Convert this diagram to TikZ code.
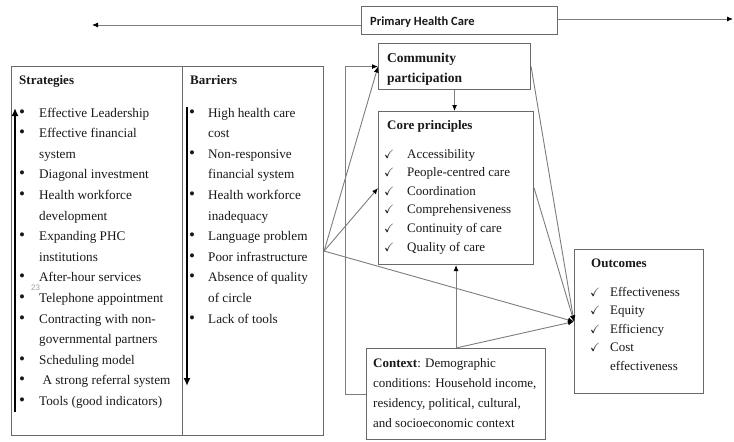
\documentclass[tikz,border=0pt]{standalone}
\usepackage{fontspec}
\setmainfont{Liberation Serif}
\newfontfamily\labelsans{Carlito}
\newfontfamily\notesans{Liberation Sans}
\usepackage{amssymb}
\usetikzlibrary{arrows.meta}

\definecolor{edge}{RGB}{105,105,105}
\definecolor{wire}{RGB}{125,125,125}
\definecolor{ink}{RGB}{25,25,25}

\newcommand\tick{{\fontsize{12}{12}\selectfont$\checkmark$}}
\newcommand\dotmark{\hspace*{-1pt}{\fontsize{17}{17}\selectfont\textbullet}}

\tikzset{
  box/.style={draw=edge, line width=1.1pt, rectangle, inner sep=0pt, anchor=north west},
  txt/.style={inner sep=0pt, anchor=base west, text=ink, font=\fontsize{13.2}{20.6}\selectfont},
  head/.style={txt, font=\fontsize{13}{20}\selectfont\bfseries},
  wire/.style={draw=wire, line width=0.9pt},
  conn/.style={wire, -{Latex[length=6pt,width=5pt,color=black]}},
  flow/.style={line width=2.2pt, draw=black, -{Latex[length=8pt,width=7pt]}},
}

\begin{document}
\begin{tikzpicture}[x=1pt,y=-1pt]
\useasboundingbox[fill=white] (0,0) rectangle (734,442);

% boxes
\node[box, minimum width=196pt, minimum height=28pt] (phc) at (361,6) {};
\node[box, minimum width=171pt, minimum height=369pt] (strat) at (11,66) {};
\node[box, minimum width=141pt, minimum height=369pt] (barr) at (182,66) {};
\node[box, minimum width=152pt, minimum height=46pt] (comm) at (378,43) {};
\node[box, minimum width=155pt, minimum height=153pt] (core) at (378,111) {};
\node[box, minimum width=179pt, minimum height=91pt] (ctx) at (366,348) {};
\node[box, minimum width=129pt, minimum height=144pt] (out) at (574,249) {};

% title bar
\node[txt, font=\labelsans\fontsize{12.5}{15}\selectfont\bfseries] (phct) at (370,25) {Primary Health Care};
\coordinate (phcL) at (92,25);
\coordinate (phcR) at (733,19);
\draw[conn] (phcL -| phc.west) -- (phcL);
\draw[conn] (phcR -| phc.east) -- (phcR);

% strategies
\node[head] (stratt) at (19,84) {Strategies};
\node[txt] (stratl) at (20,117) {\begin{tabular}[t]{@{}p{19pt}@{}l@{}}
\dotmark & Effective Leadership\\
\dotmark & Effective financial\\
 & system\\
\dotmark & Diagonal investment\\
\dotmark & Health workforce\\
 & development\\
\dotmark & Expanding PHC\\
 & institutions\\
\dotmark & After-hour services\\
\dotmark & Telephone appointment\\
\dotmark & Contracting with non-\\
 & governmental partners\\
\dotmark & Scheduling model\\
\dotmark & \ A strong referral system\\
\dotmark & Tools (good indicators)
\end{tabular}};
\node[inner sep=0pt, anchor=base west, text=gray!75, font=\notesans\fontsize{8}{8}\selectfont] (pgno) at (31,290) {23};
\coordinate (sa0) at (15,412);
\coordinate (sa1) at (15,108);
\draw[flow] (sa0) -- (sa1);

% barriers
\node[head] (barrt) at (190,84) {Barriers};
\node[txt] (barrl) at (190,117) {\begin{tabular}[t]{@{}p{18pt}@{}l@{}}
\dotmark & High health care\\
 & cost\\
\dotmark & Non-responsive\\
 & financial system\\
\dotmark & Health workforce\\
 & inadequacy\\
\dotmark & Language problem\\
\dotmark & Poor infrastructure\\
\dotmark & Absence of quality\\
 & of circle\\
\dotmark & Lack of tools
\end{tabular}};
\coordinate (ba0) at (187,107);
\coordinate (ba1) at (187,386);
\draw[flow] (ba0) -- (ba1);

% community participation
\node[txt, font=\fontsize{13.5}{20}\selectfont\bfseries] (commt) at (387,62) {\begin{tabular}[t]{@{}l@{}}
Community\\ participation\end{tabular}};

% core principles
\node[head] (coret) at (387,129) {Core principles};
\node[txt, font=\fontsize{13}{18.6}\selectfont] (corel) at (384,158) {\begin{tabular}[t]{@{}p{23pt}@{}l@{}}
\tick & Accessibility\\
\tick & People-centred care\\
\tick & Coordination\\
\tick & Comprehensiveness\\
\tick & Continuity of care\\
\tick & Quality of care
\end{tabular}};

% context
\node[txt, font=\fontsize{13}{20}\selectfont] (ctxt) at (373,367) {\begin{tabular}[t]{@{}l@{}}
\textbf{Context}: Demographic\\
conditions: Household income,\\
residency, political, cultural,\\
and socioeconomic context
\end{tabular}};

% outcomes
\node[head] (outt) at (591,267) {Outcomes};
\node[txt, font=\fontsize{13}{18.5}\selectfont] (outl) at (590,296) {\begin{tabular}[t]{@{}p{20pt}@{}l@{}}
\tick & Effectiveness\\
\tick & Equity\\
\tick & Efficiency\\
\tick & Cost\\
 & effectiveness
\end{tabular}};

% connectors
\draw[conn] (comm.south) -- (comm.south |- core.north);
\draw[conn] (ctx.north) -- (ctx.north |- core.south);
\draw[conn] (ctx.west) -- ++(-21,0) |- (comm.west);
\draw[conn] (barr.east) -- (comm.west);
\draw[conn] (barr.east) -- (core.west);
\draw[conn] (barr.east) -- (out.west);
\draw[conn] (comm.east) -- (out.west);
\draw[conn] (core.east) -- (out.west);
\draw[conn] (ctx.north) -- (out.west);
\end{tikzpicture}
\end{document}
